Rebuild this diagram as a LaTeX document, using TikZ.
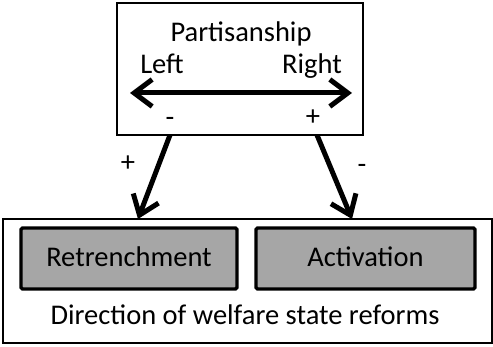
\documentclass[tikz,border=0pt]{standalone}
\usepackage{fontspec}
\setmainfont{Carlito}
\usetikzlibrary{arrows.meta,calc,positioning}
\definecolor{cbox}{HTML}{A6A6A6}
\tikzset{
  every picture/.style={x=1pt, y=-1pt, font=\fontsize{28.5}{32}\selectfont},
  barb/.tip={Straight Barb[length=18pt, width=27pt, line width=5pt]},
  frame/.style={draw, line width=2.5pt, minimum width=246pt, minimum height=132pt},
  outer/.style={draw, line width=1.6pt, minimum width=489pt, minimum height=124pt},
  reform/.style={draw, fill=cbox, line width=3.2pt, rounded corners=1.5pt,
    minimum height=61pt, text height=19pt, text depth=2pt},
  link/.style={line width=5pt, -barb},
  lbl/.style={anchor=base, inner sep=0pt},
}

\begin{document}
\begin{tikzpicture}
  \path[use as bounding box] (0,0) rectangle (493,347);
  % partisanship box
  \node[frame] (part) at (240,69) {};
  \node[lbl] (ptitle) at (241,42) {Partisanship};
  \node[lbl] (left) at (162,74) {Left};
  \node[lbl] (right) at (312,74) {Right};
  \coordinate (lend) at (130,93);
  \coordinate (rend) at (352,93);
  \draw[line width=5pt, barb-barb] (lend) -- (rend);
  \node (lminus) at (170,122) {-};
  \node (rplus) at (313,118) {+};
  % reforms box
  \node[outer] (dir) at (247.5,281) {};
  \node[reform, minimum width=216pt] (retr) at (129,258.5) {Retrenchment};
  \node[reform, minimum width=219pt] (acti) at (365.5,258.5) {Activation};
  \node[lbl] (dtext) at (245,325) {Direction of welfare state reforms};
  % effects
  \coordinate (ls) at (170,135);
  \coordinate (rs) at (317,135);
  \coordinate (lt) at (138,219);
  \coordinate (rt) at (352,219);
  \draw[link] (ls) -- (lt);
  \draw[link] (rs) -- (rt);
  \node (lsign) at (128,164) {+};
  \node (rsign) at (362,169) {-};
\end{tikzpicture}
\end{document}
